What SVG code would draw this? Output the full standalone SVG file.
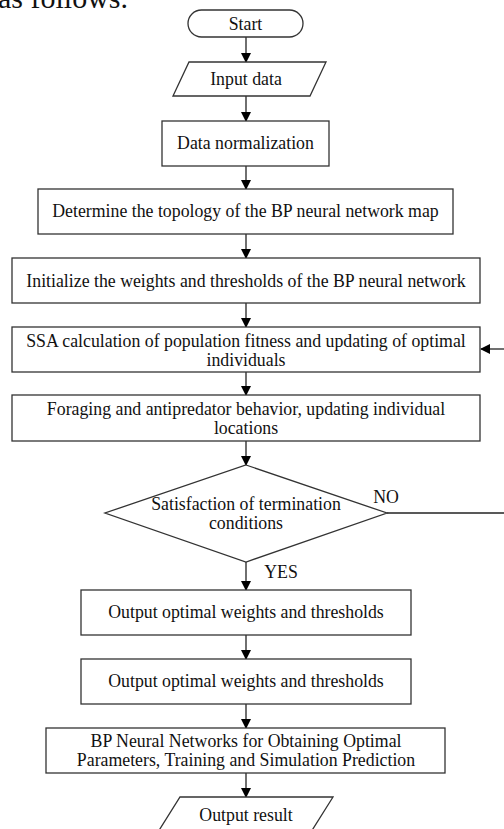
<svg xmlns="http://www.w3.org/2000/svg" width="504" height="829" viewBox="0 0 504 829">
<style>
.n{fill:#fff;stroke:#333;stroke-width:1.3}
.t{font-family:"Liberation Serif","Times New Roman",serif;font-size:17.8px;fill:#111;text-anchor:middle;dominant-baseline:central}
.c{fill:none;stroke:#222;stroke-width:1.3}
</style>
<defs>
<marker id="ah" markerWidth="10" markerHeight="10" refX="9" refY="5" orient="auto" markerUnits="userSpaceOnUse" viewBox="0 0 10 10">
<path d="M0,0 L10,5 L0,10 Z" fill="#000"/>
</marker>
</defs>
<rect width="504" height="829" fill="#fff"/>
<text x="-2" y="8" style="font-family:'Liberation Serif',serif;font-size:30px;fill:#111">as follows.</text>
<g id="connectors">
<line class="c" x1="246" y1="37" x2="246" y2="62" marker-end="url(#ah)"/>
<line class="c" x1="246" y1="96" x2="246" y2="121" marker-end="url(#ah)"/>
<line class="c" x1="246" y1="166" x2="246" y2="189" marker-end="url(#ah)"/>
<line class="c" x1="246" y1="234" x2="246" y2="258" marker-end="url(#ah)"/>
<line class="c" x1="246" y1="303" x2="246" y2="327" marker-end="url(#ah)"/>
<line class="c" x1="246" y1="372" x2="246" y2="395" marker-end="url(#ah)"/>
<line class="c" x1="246" y1="441" x2="246" y2="465" marker-end="url(#ah)"/>
<line class="c" x1="246" y1="562" x2="246" y2="590" marker-end="url(#ah)"/>
<line class="c" x1="246" y1="635" x2="246" y2="659" marker-end="url(#ah)"/>
<line class="c" x1="246" y1="704" x2="246" y2="728" marker-end="url(#ah)"/>
<line class="c" x1="246" y1="773" x2="246" y2="797" marker-end="url(#ah)"/>
<line class="c" x1="387" y1="513" x2="506" y2="513"/>
<line class="c" x1="506" y1="349" x2="481" y2="349" marker-end="url(#ah)"/>
<text class="t" x="386" y="497">NO</text>
<text class="t" x="281" y="572">YES</text>
</g>
<g id="start">
<rect class="n" x="188" y="10" width="115" height="27" rx="13.5"/>
<text class="t" x="245.5" y="24">Start</text>
</g>
<g id="input">
<polygon class="n" points="189,62 326,62 310,96 173,96"/>
<text class="t" x="246" y="79">Input data</text>
</g>
<g id="normalize">
<rect class="n" x="162" y="121" width="167" height="45"/>
<text class="t" x="245.5" y="143">Data normalization</text>
</g>
<g id="topology">
<rect class="n" x="38" y="189" width="415" height="45"/>
<text class="t" x="245.5" y="211">Determine the topology of the BP neural network map</text>
</g>
<g id="init">
<rect class="n" x="12" y="258" width="468" height="45"/>
<text class="t" x="246" y="281">Initialize the weights and thresholds of the BP neural network</text>
</g>
<g id="ssa">
<rect class="n" x="12" y="327" width="468" height="45"/>
<text class="t" x="246" y="340.5">SSA calculation of population fitness and updating of optimal</text>
<text class="t" x="246" y="359.5">individuals</text>
</g>
<g id="forage">
<rect class="n" x="12" y="395" width="468" height="46"/>
<text class="t" x="246" y="409">Foraging and antipredator behavior, updating individual</text>
<text class="t" x="246" y="428">locations</text>
</g>
<g id="decision">
<polygon class="n" points="246,465 387,513 246,562 105,513"/>
<text class="t" x="246" y="504">Satisfaction of termination</text>
<text class="t" x="246" y="523">conditions</text>
</g>
<g id="out1">
<rect class="n" x="81" y="590" width="330" height="45"/>
<text class="t" x="246" y="612">Output optimal weights and thresholds</text>
</g>
<g id="out2">
<rect class="n" x="81" y="659" width="330" height="45"/>
<text class="t" x="246" y="681">Output optimal weights and thresholds</text>
</g>
<g id="bp">
<rect class="n" x="46" y="728" width="399" height="45"/>
<text class="t" x="246" y="741">BP Neural Networks for Obtaining Optimal</text>
<text class="t" x="246" y="760">Parameters, Training and Simulation Prediction</text>
</g>
<g id="output">
<polygon class="n" points="180,797 333,797 311,832 158,832"/>
<text class="t" x="246" y="815">Output result</text>
</g>
</svg>
